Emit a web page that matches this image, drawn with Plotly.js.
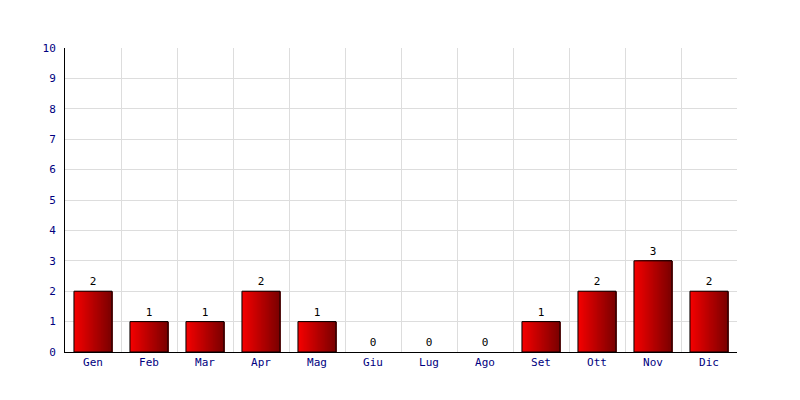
<!DOCTYPE html>
<html><head><meta charset="utf-8">
<script src="https://cdn.plot.ly/plotly-3.0.1.min.js"></script>
<style>html,body{margin:0;padding:0;background:#fff;}</style>
</head><body>
<div id="chart" style="width:800px;height:400px;"></div>
<script>
const months = ["Gen","Feb","Mar","Apr","Mag","Giu","Lug","Ago","Set","Ott","Nov","Dic"];
const counts = [2,1,1,2,1,0,0,0,1,2,3,2];

const barWidth = 0.68;
const slices = 40;
const c0 = [244,0,0], c1 = [122,0,0];
const traces = [];
for (let i = 0; i < slices; i++) {
  const t = i / (slices - 1);
  const col = `rgb(${Math.round(c0[0]+(c1[0]-c0[0])*t)},${Math.round(c0[1]+(c1[1]-c0[1])*t)},${Math.round(c0[2]+(c1[2]-c0[2])*t)})`;
  const w = barWidth / slices;
  traces.push({
    type: 'bar', x: months, y: counts,
    width: barWidth - i*w, offset: -barWidth/2 + i*w,
    marker: {color: col, line: {width: 0}},
    hoverinfo: 'skip', showlegend: false
  });
}
traces.push({
  type: 'bar', x: months, y: counts,
  width: barWidth, offset: -barWidth/2,
  marker: {color: 'rgba(0,0,0,0)', line: {color: '#000', width: counts.map(v => v > 0 ? 1 : 0)}},
  text: counts.map(String), textposition: 'outside', cliponaxis: false,
  textfont: {family: 'DejaVu Sans Mono', size: 11, color: '#000'},
  showlegend: false
});

const layout = {
  width: 800, height: 400,
  margin: {l: 65, r: 63, t: 48, b: 48},
  barmode: 'overlay',
  plot_bgcolor: '#fff', paper_bgcolor: '#fff',
  font: {family: 'DejaVu Sans Mono', size: 11, color: '#000080'},
  xaxis: {
    type: 'category', tickson: 'boundaries', showgrid: true, gridcolor: '#dddddd',
    showline: true, linecolor: '#000', linewidth: 1, ticks: '', ticklen: 0,
    tickfont: {family: 'DejaVu Sans Mono', size: 11, color: '#000080'}
  },
  yaxis: {
    range: [0, 10], dtick: 1, showgrid: true, gridcolor: '#dddddd',
    showline: true, linecolor: '#000', linewidth: 1, ticks: '', zeroline: false,
    ticklabelstandoff: 6,
    tickfont: {family: 'DejaVu Sans Mono', size: 11, color: '#000080'}
  }
};
Plotly.newPlot('chart', traces, layout, {displayModeBar: false, staticPlot: true});
</script>
</body></html>
